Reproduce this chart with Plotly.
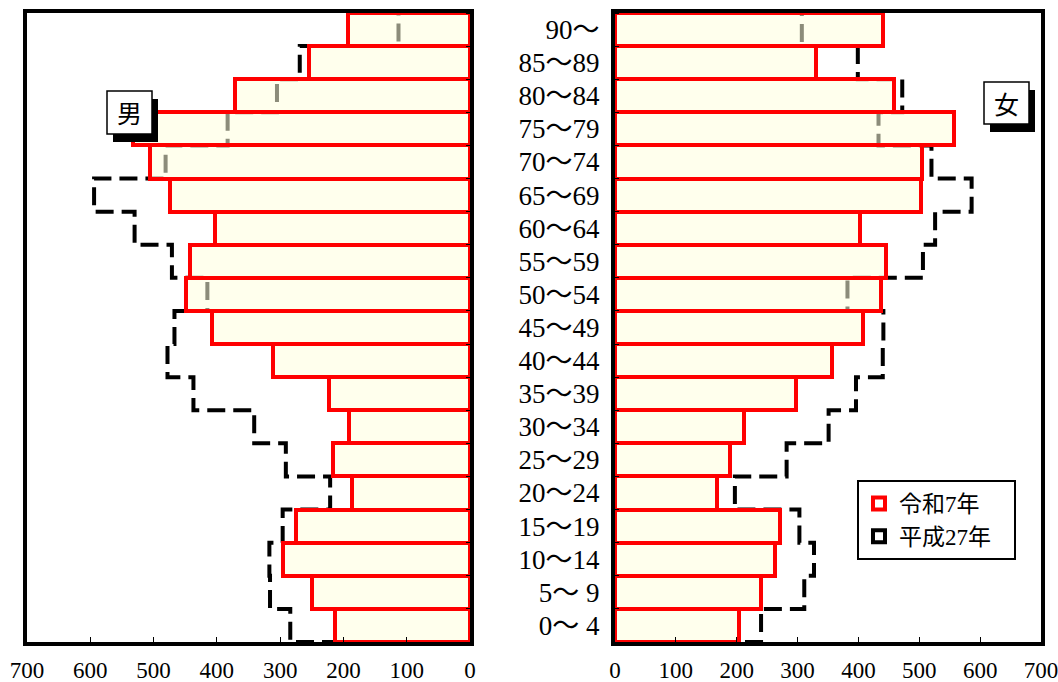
import plotly.graph_objects as go

# ---- data (bottom -> top) ----
categories = ["0～ 4", "5～ 9", "10～14", "15～19", "20～24", "25～29", "30～34",
              "35～39", "40～44", "45～49", "50～54", "55～59", "60～64", "65～69",
              "70～74", "75～79", "80～84", "85～89", "90～"]
male_r7 = [213, 249, 296, 275, 187, 216, 191, 223, 311, 408, 448, 442, 403, 474,
           505, 532, 372, 254, 193]
male_h27 = [284, 316, 317, 296, 221, 291, 341, 437, 478, 467, 415, 471, 530, 594,
            481, 383, 305, 269, 113]
female_r7 = [203, 240, 263, 271, 167, 189, 212, 297, 356, 407, 437, 446, 402, 502,
             505, 557, 459, 330, 441]
female_h27 = [240, 311, 327, 303, 197, 282, 351, 396, 440, 441, 382, 506, 526, 586,
              520, 433, 472, 399, 307]
x_ticks = [0, 100, 200, 300, 400, 500, 600, 700]
series_names = ["令和7年", "平成27年\u00a0\u00a0\u00a0"]
panel_labels = ["男", "女"]

FONT = "Liberation Serif, 'Noto Sans CJK JP', serif"
CJK = "'Noto Sans CJK JP', sans-serif"
RED = "#FF0000"
FILL = "rgba(255,255,222,0.55)"

n = len(categories)
pos = list(range(n))


def step_path(vals):
    pts = [(0, -0.5)]
    for i, v in enumerate(vals):
        pts += [(v, i - 0.5), (v, i + 0.5)]
    pts.append((0, n - 0.5))
    return "M " + " L ".join(f"{x},{y}" for x, y in pts)


fig = go.Figure()

for vals_r, xa, ya in [(male_r7, "x", "y"), (female_r7, "x2", "y2")]:
    fig.add_trace(go.Bar(x=vals_r, y=pos, orientation="h", width=1, xaxis=xa, yaxis=ya,
                         marker=dict(color=FILL, line=dict(color=RED, width=4)),
                         showlegend=False, hoverinfo="skip"))

# previous-census profile (dashed), below the bars
for vals_h, xr, yr in [(male_h27, "x", "y"), (female_h27, "x2", "y2")]:
    fig.add_shape(type="path", path=step_path(vals_h), xref=xr, yref=yr, layer="below",
                  line=dict(color="black", width=4, dash="18px,8px"))

# legend entries
for name, col in zip(series_names, [RED, "black"]):
    fig.add_trace(go.Scatter(x=[None], y=[None], mode="markers", name=name,
                             xaxis="x2", yaxis="y2",
                             marker=dict(symbol="square", size=12, color="white",
                                         line=dict(color=col, width=4))))

W, H = 1058, 682
ML, MR, MT, MB = 27, 17, 13, 40
PW, PH = W - ML - MR, H - MT - MB


def px(x):
    return (x - ML) / PW


def py(y):
    return (H - MB - y) / PH


axis_common = dict(showline=True, linewidth=4, linecolor="black", mirror=True,
                   showgrid=False, zeroline=False, automargin=False)
x_common = dict(axis_common, tickvals=x_ticks, ticks="inside", ticklen=5, tickwidth=1,
                tickcolor="black", tickfont=dict(family=FONT, size=23, color="black"),
                ticklabelstandoff=4, ticklabeloverflow="allow")
y_common = dict(axis_common, range=[-0.5, n - 0.5], tickvals=pos, ticks="",
                minor=dict(tickvals=[i - 0.5 for i in range(n + 1)], ticks="inside",
                           ticklen=4, tickcolor="black", tickwidth=1))

fig.update_layout(
    width=W, height=H,
    margin=dict(l=ML, r=MR, t=MT, b=MB, autoexpand=False),
    paper_bgcolor="white", plot_bgcolor="white",
    bargap=0, barmode="overlay",
    xaxis=dict(x_common, domain=[0, px(470)], range=[700, 0]),
    yaxis=dict(y_common, side="right", showticklabels=False, anchor="x"),
    xaxis2=dict(x_common, domain=[px(615), 1], range=[0, 700], anchor="y2"),
    yaxis2=dict(y_common, side="left", ticktext=categories, anchor="x2",
                tickfont=dict(family=FONT, size=27, color="black"),
                ticklabelstandoff=6, ticklabeloverflow="allow"),
    legend=dict(x=px(857), y=py(480), xanchor="left", yanchor="top",
                bgcolor="white", bordercolor="black", borderwidth=2,
                font=dict(family=FONT, size=23, color="black"),
                itemwidth=30, tracegroupgap=0),
    showlegend=True,
    hovermode=False,
)

# panel label boxes with drop shadows
for label, (x0, y0, x1, y1) in zip(panel_labels, [(107, 91, 152, 134), (984, 82, 1029, 124)]):
    fig.add_shape(type="rect", xref="paper", yref="paper", layer="above",
                  x0=px(x0 + 6), x1=px(x1 + 6), y0=py(y0 + 8), y1=py(y1 + 8),
                  fillcolor="black", line=dict(width=0))
    fig.add_shape(type="rect", xref="paper", yref="paper", layer="above",
                  x0=px(x0), x1=px(x1), y0=py(y0), y1=py(y1),
                  fillcolor="white", line=dict(color="black", width=1.5))
    fig.add_annotation(x=px((x0 + x1) / 2), y=py((y0 + y1) / 2), xref="paper", yref="paper",
                       xanchor="center", yanchor="middle",
                       text=label, showarrow=False,
                       font=dict(family=CJK, size=25, color="black"))

post = (
    "document.documentElement.style.margin='0';"
    "document.body.style.margin='0';"
    "document.body.style.overflow='hidden';"
)
fig.write_html("out.html", config={"displayModeBar": False}, post_script=post)
